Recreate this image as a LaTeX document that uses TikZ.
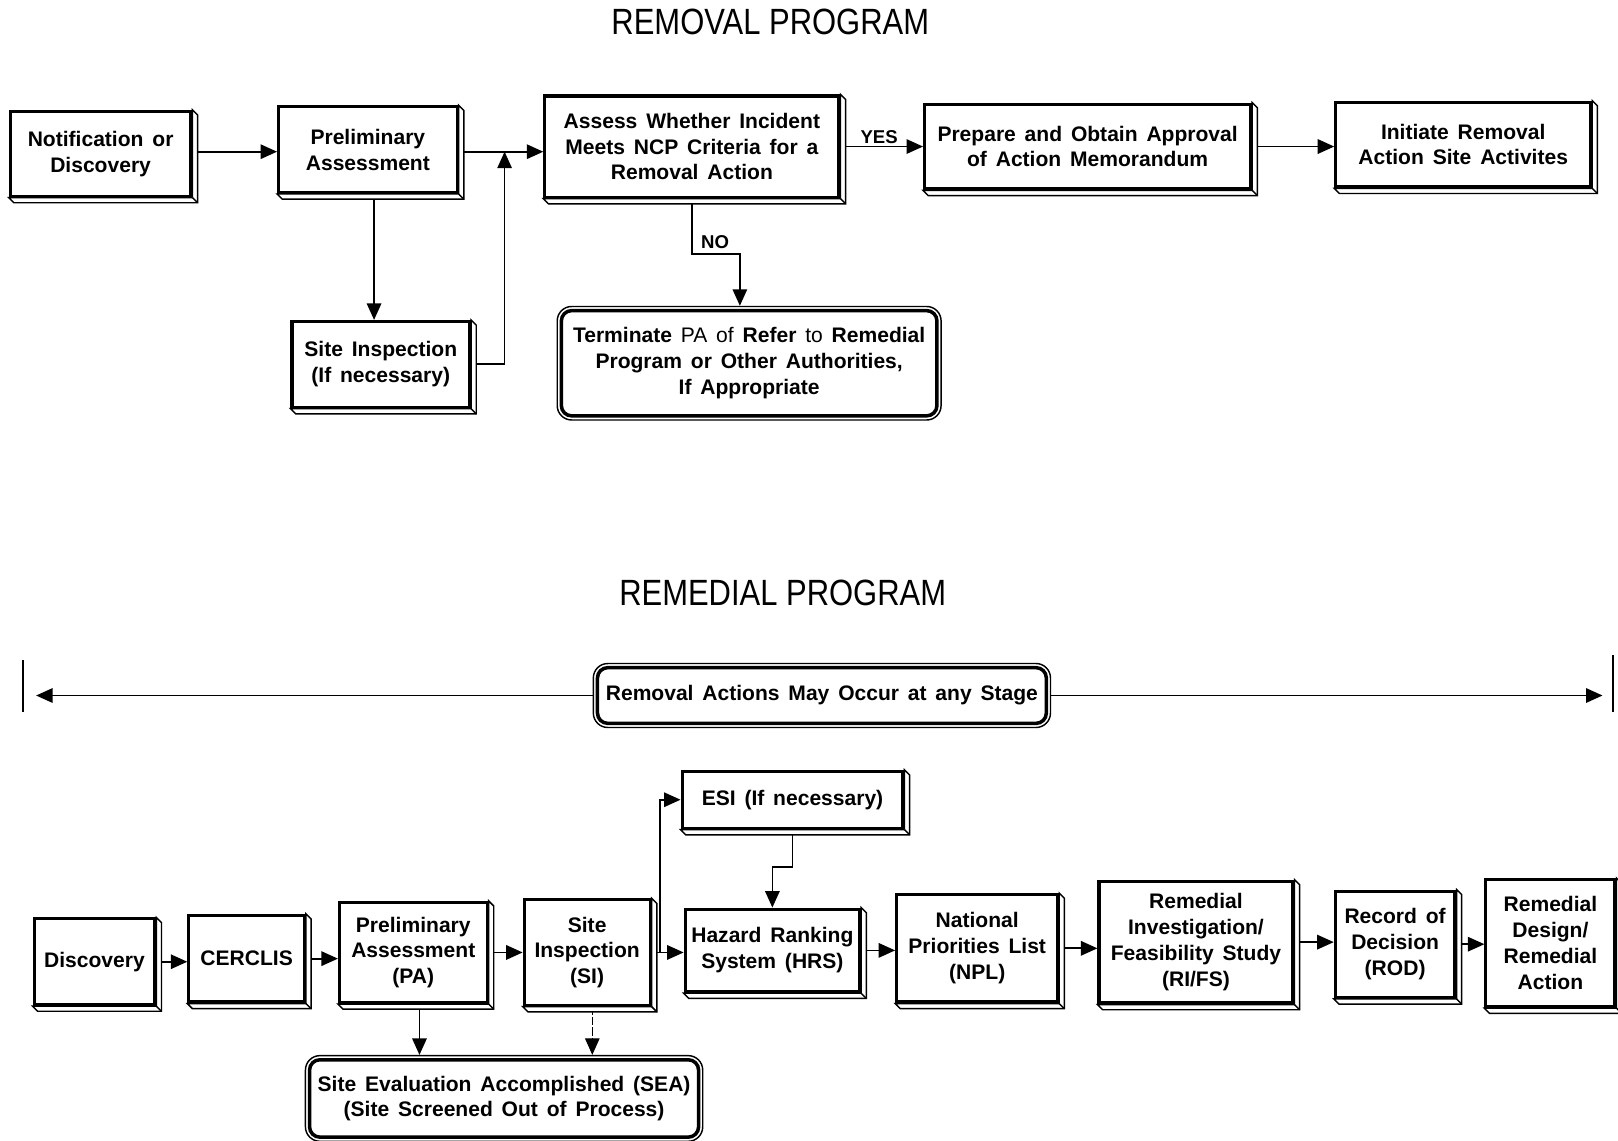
\documentclass[tikz,border=0pt]{standalone}
\usepackage{fontspec}
\setmainfont{Liberation Sans}
\usetikzlibrary{arrows.meta,calc,backgrounds}
\newcommand\boxfont{\fontsize{10.2}{12.5}\selectfont\bfseries\spaceskip=0.42em plus 0.1em\relax}
\newcommand\lblfont{\fontsize{9}{11}\selectfont\bfseries}
\newcommand\titlefont{\fontsize{15}{18}\selectfont}
\newcommand\slab[1]{%
  \filldraw[slabline] (#1.north east) -- ++(5,5) -- ($(#1.south east)+(5,5)$) -- ($(#1.south west)+(5,5)$) -- (#1.south west) -- (#1.south east) -- cycle;
  \draw[slabline] (#1.south east) -- ++(5,5);}
\tikzset{
  box/.style={draw, line width=1.5pt, fill=white, align=center, inner sep=1pt, font=\boxfont},
  rbox/.style={draw, line width=1.7pt, rounded corners=5pt, fill=white, align=center, inner sep=1pt, font=\boxfont},
  obox/.style={draw, line width=0.7pt, rounded corners=7pt, fill=white, inner sep=0pt},
  slabline/.style={line width=0.7pt, fill=white},
  conn/.style={line width=0.85pt, -{Triangle[length=8pt,width=7pt]}},
  connthin/.style={line width=0.5pt, dash pattern=on 4pt off 1pt, -{Triangle[length=8pt,width=7pt]}},
  lbl/.style={font=\lblfont, inner sep=1pt},
  ttl/.style={font=\titlefont, inner sep=0pt},
}
\begin{document}
\begin{tikzpicture}[x=0.5pt,y=-0.5pt]
\useasboundingbox (0,0) rectangle (1568,1105);
% titles
\node[ttl] (t1) at (746.5,21) {\scalebox{1}[1.18]{REMOVAL PROGRAM}};
\node[ttl] (t2) at (758.5,575) {\scalebox{1}[1.18]{REMEDIAL PROGRAM}};
% ---------- removal program ----------
\node[box, minimum width=87.5pt, minimum height=41pt] (notif) at (97.5,149) {Notification or\\Discovery};
\node[box, minimum width=86.5pt, minimum height=41.5pt] (prelim) at (356.5,145) {Preliminary\\Assessment};
\node[box, minimum width=86pt, minimum height=41.5pt] (sinsp) at (369,353) {Site Inspection\\(If necessary)};
\node[box, minimum width=142.5pt, minimum height=49pt] (assess) at (670.5,142) {Assess Whether Incident\\Meets NCP Criteria for a\\Removal Action};
\node[box, minimum width=158pt, minimum height=41pt] (prepare) at (1054,142) {Prepare and Obtain Approval\\of Action Memorandum};
\node[box, minimum width=123.5pt, minimum height=41pt] (initiate) at (1418,140) {Initiate Removal\\Action Site Activites};
\node[obox, minimum width=186pt, minimum height=55pt] (termo) at (726,352) {};
\node[rbox, minimum width=182pt, minimum height=51pt] (term) at (726,352) {Terminate {\mdseries PA of} Refer {\mdseries to} Remedial\\Program or Other Authorities,\\If Appropriate};
\node[lbl] (yes) at (852,133) {YES};
\node[lbl] (no) at (693,235) {NO};
% ---------- remedial program ----------
\node[obox, minimum width=221.5pt, minimum height=31pt] (removalo) at (796.5,674) {};
\node[rbox, minimum width=217.5pt, minimum height=27pt] (removal) at (796.5,674) {Removal Actions May Occur at any Stage};
\node[box, minimum width=107pt, minimum height=27.5pt] (esi) at (768,775) {ESI (If necessary)};
\node[box, minimum width=58.5pt, minimum height=41.5pt] (disc) at (91.5,932) {Discovery};
\node[box, minimum width=56pt, minimum height=42pt] (cerclis) at (239,929) {CERCLIS};
\node[box, minimum width=71.5pt, minimum height=48.5pt] (pa2) at (400.5,923) {Preliminary\\Assessment\\(PA)};
\node[box, minimum width=61pt, minimum height=51pt] (si2) at (569,923) {Site\\Inspection\\(SI)};
\node[box, minimum width=84.5pt, minimum height=40pt] (hrs) at (748.5,921) {Hazard Ranking\\System (HRS)};
\node[box, minimum width=78pt, minimum height=52pt] (npl) at (947,919) {National\\Priorities List\\(NPL)};
\node[box, minimum width=94pt, minimum height=59pt] (rifs) at (1159,913) {Remedial\\Investigation/\\Feasibility Study\\(RI/FS)};
\node[box, minimum width=58pt, minimum height=51.5pt] (rod) at (1352,915) {Record of\\Decision\\(ROD)};
\node[box, minimum width=62.5pt, minimum height=61.5pt] (rdra) at (1502.5,914) {Remedial\\Design/\\Remedial\\Action};
\node[obox, minimum width=192.5pt, minimum height=41.5pt] (seao) at (488.5,1064.5) {};
\node[rbox, minimum width=188.5pt, minimum height=37.5pt] (sea) at (488.5,1064.5) {Site Evaluation Accomplished (SEA)\\(Site Screened Out of Process)};
% slabs
\foreach \n in {notif,prelim,sinsp,assess,prepare,initiate,esi,disc,cerclis,pa2,si2,hrs,npl,rifs,rod,rdra}{\slab{\n}}
% ---------- connectors ----------
\begin{scope}[on background layer]
  \coordinate (m) at (489,147);
  \coordinate (pd) at ($(prelim.south)+(6,0)$);
  \coordinate (nob) at (717,246);
  \draw[conn] (notif.east |- m) -- (m -| prelim.west);
  \draw[conn] (prelim.east |- m) -- (m -| assess.west);
  \draw[conn] (pd) -- (pd |- sinsp.north);
  \draw[conn] (sinsp.east) -| (m);
  \draw[conn] (assess.east) -- (assess.east -| prepare.west);
  \draw[conn] (prepare.east) -- (prepare.east -| initiate.west);
  \draw[conn] (assess.south) |- (nob) -- (nob |- termo.north);
  % remedial
  \coordinate (lt) at (35,674);
  \coordinate (rt) at (1553,674);
  \draw[conn] (removalo.west) -- (lt);
  \draw[conn] (removalo.east) -- (rt);
  \draw[conn] (disc.east) -- (disc.east -| cerclis.west);
  \draw[conn] (cerclis.east) -- (cerclis.east -| pa2.west);
  \draw[conn] (pa2.east) -- (pa2.east -| si2.west);
  \draw[conn] (si2.east) -- (si2.east -| hrs.west);
  \draw[conn] (hrs.east) -- (hrs.east -| npl.west);
  \draw[conn] (npl.east) -- (npl.east -| rifs.west);
  \draw[conn] (rifs.east) -- (rifs.east -| rod.west);
  \draw[conn] (rod.east) -- (rod.east -| rdra.west);
  \coordinate (sj) at ($(si2.east)+(8,0)$);
  \draw[conn] (sj) |- (esi.west);
  \coordinate (eb) at ($(esi.south)+(0,36)$);
  \draw[conn] (esi.south) -- (eb) -| (hrs.north);
  \coordinate (pb) at ($(pa2.south)+(6,0)$);
  \draw[conn] (pb) -- (pb |- seao.north);
  \coordinate (sb) at ($(si2.south)+(5,0)$);
  \draw[connthin] (sb) -- (sb |- seao.north);
\end{scope}
% end ticks
\draw[line width=0.9pt] (22,640) -- (22,690);
\draw[line width=0.9pt] (1563,635) -- (1563,690);
\end{tikzpicture}
\end{document}
